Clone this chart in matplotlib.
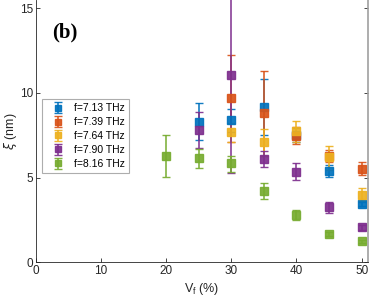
import matplotlib
matplotlib.use("Agg")
import matplotlib.pyplot as plt
import numpy as np

plt.rcParams['font.family'] = ['Liberation Sans', 'DejaVu Sans']

vf = [20, 25, 30, 35, 40, 45, 50]
labels = ['f=7.13 THz', 'f=7.39 THz', 'f=7.64 THz', 'f=7.90 THz', 'f=8.16 THz']
colors = ['#0072BD', '#D95319', '#EDB120', '#7E2F8E', '#77AC30']

# values (nan = missing), lower and upper error bar ends
xi_713 = [np.nan, 8.31, 8.41, 9.19, 7.50, 5.39, 3.43]
lo_713 = [np.nan, 7.20, 7.70, 7.54, 7.10, 5.06, 3.30]
hi_713 = [np.nan, 9.43, 9.07, 10.85, 7.90, 5.75, 3.56]

xi_739 = [np.nan, np.nan, 9.69, 8.80, 7.48, 6.28, 5.49]
lo_739 = [np.nan, np.nan, 7.13, 6.30, 6.97, 5.90, 5.12]
hi_739 = [np.nan, np.nan, 12.26, 11.32, 8.00, 6.60, 5.89]

xi_764 = [np.nan, np.nan, 7.68, 7.13, 7.76, 6.24, 3.98]
lo_764 = [np.nan, np.nan, 7.10, 6.30, 7.10, 5.45, 3.60]
hi_764 = [np.nan, np.nan, 8.20, 7.85, 8.37, 6.89, 4.37]

xi_790 = [np.nan, 7.81, 11.06, 6.12, 5.35, 3.25, 2.05]
lo_790 = [np.nan, 6.73, 5.26, 5.65, 4.86, 2.93, 1.90]
hi_790 = [np.nan, 8.90, 16.90, 6.59, 5.85, 3.56, 2.20]

xi_816 = [6.28, 6.16, 5.85, 4.21, 2.80, 1.65, 1.22]
lo_816 = [5.02, 5.59, 5.35, 3.74, 2.50, 1.55, 1.12]
hi_816 = [7.52, 6.70, 6.28, 4.67, 3.09, 1.75, 1.32]

series = [(xi_713, lo_713, hi_713), (xi_739, lo_739, hi_739),
          (xi_764, lo_764, hi_764), (xi_790, lo_790, hi_790),
          (xi_816, lo_816, hi_816)]

fig = plt.figure(figsize=(3.74, 3.04), dpi=100)
ax = fig.add_axes([0.0963, 0.138, 0.888, 0.862])

handles = []
for (y, lo, hi), c, lab in zip(series, colors, labels):
    y = np.array(y, float); lo = np.array(lo, float); hi = np.array(hi, float)
    m = ~np.isnan(y)
    x = np.array(vf, float)[m]
    yerr = np.vstack([y[m] - lo[m], hi[m] - y[m]])
    h = ax.errorbar(x, y[m], yerr=yerr, fmt='s', color=c, ms=5.5, mec=c, mfc=c,
                    elinewidth=1.2, capsize=2.8, capthick=1.0, label=lab,
                    alpha=0.92, clip_on=True)
    handles.append(h)

ax.set_xlim(0, 51)
ax.set_ylim(0, 15.5)
ax.set_xticks([0, 10, 20, 30, 40, 50])
ax.set_yticks([0, 5, 10, 15])
ax.tick_params(direction='in', length=3, width=0.6, labelsize=8.5,
               colors='#262626', right=True, top=False, pad=2)
ax.tick_params(axis='y', labelright=False)
ax.spines['top'].set_visible(False)
for s in ['left', 'bottom']:
    ax.spines[s].set_color('#262626')
    ax.spines[s].set_linewidth(0.6)
ax.spines['right'].set_color('#a0a0a0')
ax.spines['right'].set_linewidth(1.2)

ax.set_xlabel('V$_\\mathregular{f}$ (%)', fontsize=9, color='#262626', labelpad=3)
ax.set_ylabel('$\\xi$ (nm)', fontsize=9, color='#262626', labelpad=1)

ax.text(0.05, 0.915, '(b)', transform=ax.transAxes, fontsize=15,
        fontweight='bold', family='Liberation Serif', va='top')

leg = ax.legend(handles=handles, loc='upper left', bbox_to_anchor=(0.018, 0.622),
                fontsize=7.5, frameon=True, fancybox=False, handlelength=2.2,
                handletextpad=0.5, borderpad=0.4, labelspacing=0.38,
                borderaxespad=0, markerscale=0.8)
leg.get_frame().set_edgecolor('#999999')
leg.get_frame().set_linewidth(0.8)

fig.savefig('out.png', dpi=100)
